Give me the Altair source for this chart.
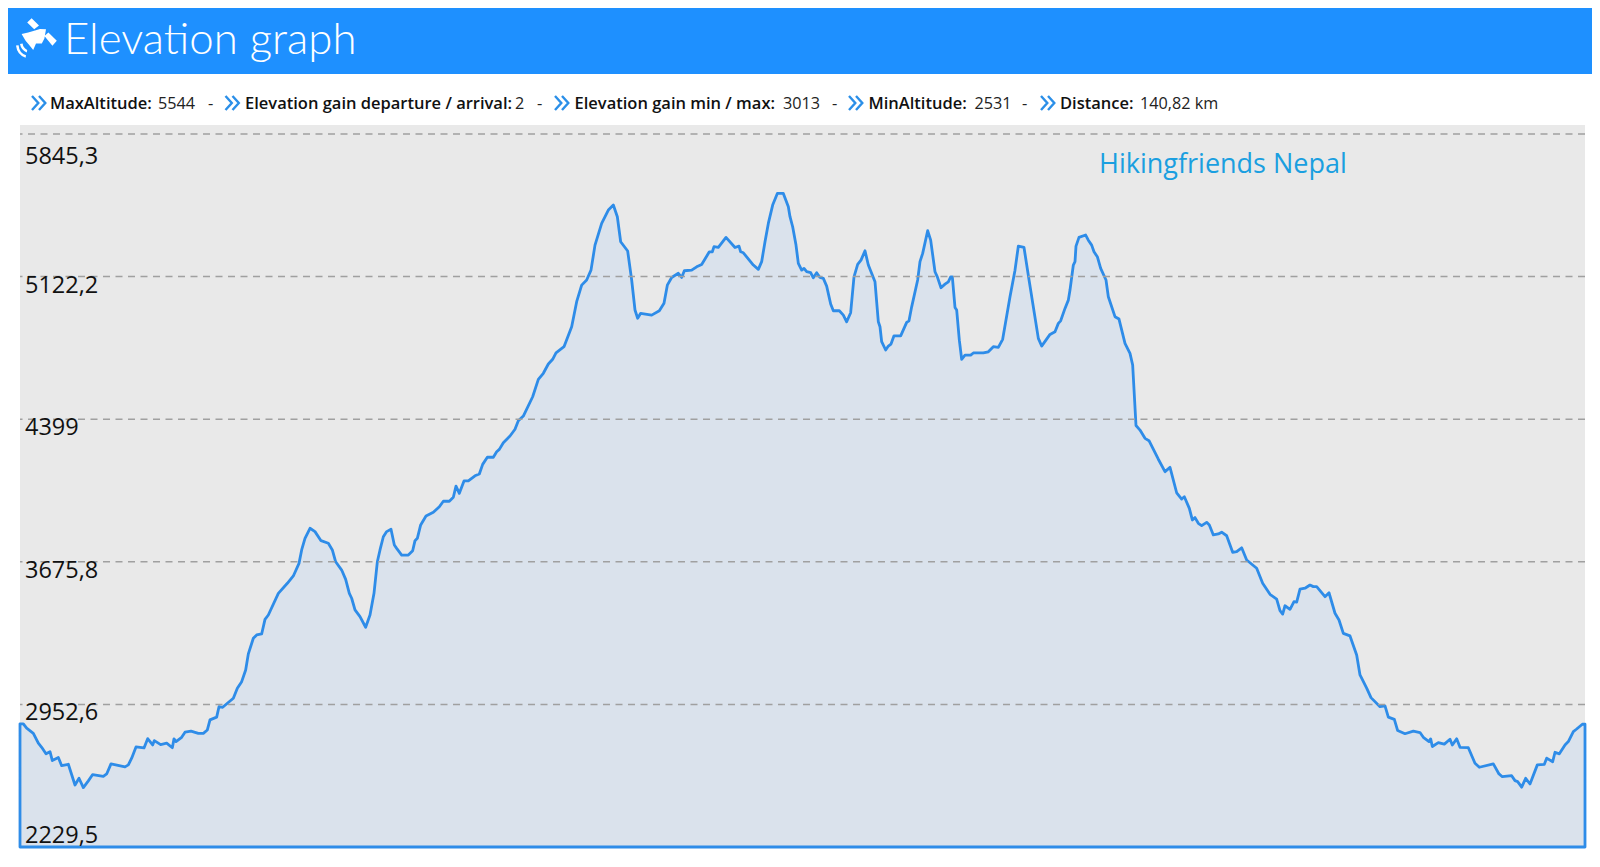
import altair as alt
import pandas as pd

km = [0,.3,.6,1.2,1.65,1.95,2.34,2.7,2.91,3.45,3.75,4.35,4.95,5.31,5.7,6.15,6.54,7.5,7.8,8.19,9.45,9.75,10.05,10.44,11.16,11.49,11.94,12.09,12.66,13.2,13.71,13.86,14.04,14.55,14.85,15.39,16.05,16.5,16.86,17.1,17.7,17.91,18.24,19.2,19.56,19.95,20.31,20.55,21.0,21.3,21.75,22.05,22.35,23.25,24.06,24.6,25.11,25.35,25.65,26.1,26.55,27.09,27.75,28.11,28.41,28.95,29.31,29.64,29.85,30.15,30.6,31.11,31.5,31.86,32.16,32.4,32.7,33.0,33.39,33.69,33.9,34.35,34.95,35.34,35.55,35.76,36.06,36.54,37.2,37.74,38.1,38.64,39.0,39.24,39.54,39.96,40.35,40.95,41.34,41.64,42.06,42.6,42.9,43.14,43.5,44.1,44.55,44.85,45.3,46.14,46.65,47.1,47.55,47.94,48.24,48.96,49.65,50.1,50.55,51.0,51.39,51.75,52.35,52.95,53.4,53.76,54.06,54.69,55.05,55.35,55.59,55.86,56.85,57.54,57.96,58.26,58.65,59.25,59.55,59.79,60.45,60.9,61.35,62.04,62.31,62.46,62.85,63.54,64.35,64.71,64.86,65.1,66.0,66.45,66.75,67.05,67.35,67.74,68.16,68.7,69.15,69.3,69.54,69.84,70.05,70.35,70.56,70.8,71.16,71.4,71.7,72.0,72.3,72.6,72.96,73.2,73.74,74.1,74.4,74.76,75.06,75.39,75.69,76.05,76.35,76.95,77.25,77.4,77.55,77.91,78.15,78.39,78.66,79.26,79.8,80.01,80.25,80.79,81.0,81.24,81.69,81.96,82.35,82.56,82.89,83.25,83.55,83.76,83.91,84.15,84.3,84.54,84.75,85.05,85.56,85.8,86.7,87.15,87.6,88.05,88.44,89.1,89.55,89.85,90.36,90.84,91.65,91.95,92.7,93.15,93.45,93.66,94.05,94.35,94.5,94.8,94.95,95.04,95.31,95.91,96.15,96.45,96.66,96.96,97.26,97.74,97.95,98.55,98.91,99.45,99.9,100.14,100.44,100.8,101.25,101.61,102.45,103.05,103.5,104.1,104.55,104.79,105.24,105.51,105.75,106.05,106.35,106.8,107.04,107.4,107.85,108.15,108.6,109.14,109.5,109.95,110.4,111.3,111.84,112.5,113.1,113.4,113.64,113.85,114.3,114.66,114.9,115.2,115.65,116.1,116.4,116.7,117.45,117.81,118.35,118.71,119.1,119.7,120.3,120.6,121.2,121.59,122.4,122.85,123.15,123.69,123.99,124.65,125.4,126.0,126.3,126.81,126.96,127.11,127.65,128.19,128.7,128.91,129.3,129.6,130.35,130.95,131.34,132.6,133.11,133.41,134.25,134.55,134.79,135.15,135.51,135.9,136.56,137.19,137.4,137.94,138.15,138.54,139.05,139.35,139.8,140.1,140.61,140.85]

elevation = [2854,2854,2832,2806,2756,2735,2702,2713,2668,2683,2642,2649,2544,2578,2531,2565,2597,2588,2600,2651,2636,2646,2680,2737,2732,2779,2747,2769,2749,2756,2733,2778,2764,2786,2812,2817,2806,2806,2823,2874,2888,2941,2938,2984,3035,3068,3127,3209,3288,3305,3310,3384,3406,3516,3567,3604,3668,3736,3795,3846,3829,3783,3770,3736,3676,3634,3587,3516,3491,3432,3398,3344,3406,3516,3676,3736,3803,3829,3841,3761,3744,3710,3710,3732,3783,3795,3863,3908,3927,3955,3983,3983,4003,4060,4023,4086,4086,4112,4121,4170,4206,4206,4234,4246,4280,4314,4348,4391,4415,4513,4601,4632,4679,4703,4736,4767,4868,4995,5079,5105,5155,5282,5392,5460,5485,5426,5299,5252,5105,4953,4911,4936,4927,4949,4987,5079,5118,5139,5118,5152,5155,5172,5184,5248,5248,5274,5270,5321,5270,5277,5248,5243,5181,5159,5198,5299,5392,5485,5544,5544,5476,5426,5375,5282,5189,5155,5164,5147,5142,5116,5142,5118,5113,5074,4983,4949,4949,4927,4893,4939,5121,5184,5206,5253,5181,5096,4893,4868,4792,4750,4770,4780,4822,4822,4890,4898,4969,5105,5198,5240,5355,5307,5147,5121,5066,5084,5096,5121,5121,4966,4953,4800,4703,4724,4724,4735,4735,4741,4767,4763,4804,5020,5155,5277,5270,5096,4809,4770,4829,4843,4885,4898,4961,5003,5054,5181,5198,5277,5321,5333,5307,5282,5248,5223,5164,5105,5020,4919,4907,4784,4733,4674,4367,4344,4302,4290,4196,4133,4155,4026,3994,4006,3947,3888,3900,3871,3859,3876,3863,3812,3817,3826,3808,3724,3727,3747,3685,3643,3567,3511,3487,3428,3411,3453,3435,3474,3471,3537,3542,3558,3550,3550,3499,3519,3415,3381,3313,3300,3203,3102,3035,2987,2941,2945,2888,2877,2820,2804,2817,2810,2786,2764,2778,2739,2759,2751,2776,2747,2778,2735,2733,2654,2634,2651,2600,2586,2591,2566,2561,2533,2578,2549,2646,2649,2680,2662,2710,2702,2747,2764,2815,2828,2852,2852]

tick_values = [5845.3, 5122.2, 4399.0, 3675.8, 2952.6, 2229.5]
tick_labels = ["5845,3", "5122,2", "4399", "3675,8", "2952,6", "2229,5"]
grid_values = [5845.3, 5122.2, 4399.0, 3675.8, 2952.6]

n = min(len(km), len(elevation))
profile = pd.DataFrame({"km": km[:n], "elevation": elevation[:n]})
ticks = pd.DataFrame({"v": tick_values, "label": tick_labels})
grid = pd.DataFrame({"v": grid_values})
one = pd.DataFrame({"a": [0]})

FONT = "Open Sans"
x_scale = alt.Scale(domain=[0, 140.85], nice=False, zero=False)
y_scale = alt.Scale(domain=[2229.5, 5891.1], nice=False, zero=False)

area = alt.Chart(profile).mark_area(
    fill="#dae2ec", stroke="#2e8ce8", strokeWidth=2.8, interpolate="linear", strokeJoin="round"
).encode(
    x=alt.X("km:Q", scale=x_scale, axis=None),
    y=alt.Y("elevation:Q", scale=y_scale, axis=None),
    y2=alt.datum(2229.5),
)

rules = alt.Chart(grid).mark_rule(color="#a0a0a0", strokeWidth=1.5, strokeDash=[7, 5.5]).encode(
    y=alt.Y("v:Q", scale=y_scale, axis=None))

def tick_text(rows, dy):
    return alt.Chart(ticks[ticks["label"].isin(rows)]).mark_text(
        align="left", baseline="alphabetic", font=FONT, fontSize=23.5, color="#111111", dx=0, dy=dy
    ).encode(x=alt.value(5), y=alt.Y("v:Q", scale=y_scale, axis=None), text="label:N")

def txt(s, x, y, size, color="#111111", weight=400, font=FONT):
    return alt.Chart(one).mark_text(
        text=s, align="left", baseline="alphabetic", font=font, fontSize=size, color=color, fontWeight=weight
    ).encode(x=alt.value(x - 20), y=alt.value(y - 125))

banner = alt.Chart(one).mark_rect(color="#1e90ff").encode(
    x=alt.value(-12), x2=alt.value(1572), y=alt.value(-117), y2=alt.value(-51))

SAT = ("M-.44,-.77L-.22,-.99L.15,-.62L-.09,-.44Z"
       "M.42,-.1L.62,-.27L1.04,.14L.82,.39Z"
       "M.5,-.44L.42,.02L.29,.27L0,.27L-.14,.6L-.34,.35L-.52,.14L-.72,-.2L-.39,-.27L-.05,-.37L.2,-.45Z"
       "M-1,.38Q-.95,.85-.52,.99L-.5,.86Q-.84,.75-.87,.36Z"
       "M-.8,.3Q-.75,.6-.46,.72L-.44,.6Q-.64,.5-.67,.28Z")
icon = alt.Chart(one).mark_point(shape=SAT, size=1600, filled=True, fill="white", stroke=None, opacity=1).encode(
    x=alt.value(16), y=alt.value(-87))

CHEV = "M-1,-1L-.1,0L-1,1M0,-1L.9,0L0,1"
def chevron(x):
    return alt.Chart(one).mark_point(shape=CHEV, size=196, filled=False, stroke="#2b8fe8", strokeWidth=2.4, opacity=1).encode(
        x=alt.value(x + 8 - 20), y=alt.value(103 - 125))

stats = [
    (31, "MaxAltitude:", 50, "5544", 158),
    (224.5, "Elevation gain departure / arrival:", 245, "2", 515),
    (554, "Elevation gain min / max:", 574.5, "3013", 783),
    (848, "MinAltitude:", 868.5, "2531", 974.5),
    (1040, "Distance:", 1060, "140,82 km", 1140),
]
dash_x = [208, 537, 832, 1022]

layers = [area, rules, tick_text(["5845,3"], 30), tick_text(["5122,2", "4399", "3675,8", "2952,6"], 16),
          tick_text(["2229,5"], -4), banner, icon,
          txt("Elevation graph", 64, 54, 43.8, "white", 300, "Lato"),
          txt("Hikingfriends Nepal", 1099, 173, 27, "#1a9fe0")]
for cx, lab, lx, val, vx in stats:
    layers += [chevron(cx), txt(lab, lx, 109, 16.5, "#111111", 600), txt(val, vx, 109, 16.2, "#222222")]
layers += [txt("-", dx, 109, 16.5, "#222222") for dx in dash_x]

chart = alt.layer(*layers).properties(
    width=1565, height=722, background="white",
    padding={"left": 12, "top": 117, "right": 7, "bottom": 3},
    autosize=alt.AutoSizeParams(type="none"),
).configure_view(fill="#e9e9e9", stroke=None)

chart.save("out.html", embed_options={"renderer": "svg", "actions": False})
